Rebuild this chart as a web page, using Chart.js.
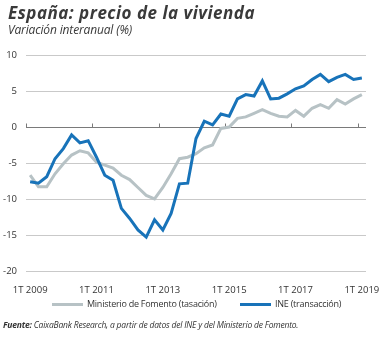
<!DOCTYPE html>
<html lang="es">
<head>
<meta charset="utf-8">
<title>España: precio de la vivienda</title>
<script src="https://cdn.jsdelivr.net/npm/chart.js@4/dist/chart.umd.min.js"></script>
<style>
  html, body { margin: 0; padding: 0; background: #fff; }
  #wrap { position: relative; width: 386px; height: 338px; font-family: "Open Sans", sans-serif; color: #333; overflow: hidden; }
  #chart { position: absolute; left: 0; top: 0; }
  .title { position: absolute; left: 8px; top: 4px; font-size: 17px; line-height: 17px; font-weight: 700; font-style: italic; letter-spacing: 0.5px; color: #3a3a3a; white-space: nowrap; }
  .subtitle { position: absolute; left: 8px; top: 24px; font-size: 12px; line-height: 12px; font-style: italic; letter-spacing: -0.15px; color: #3a3a3a; white-space: nowrap; }
  .legend-item { position: absolute; top: 299px; height: 10px; font-size: 9px; line-height: 10px; letter-spacing: -0.25px; white-space: nowrap; }
  .legend-item .swatch { position: absolute; left: 0; top: 4px; width: 31px; height: 3px; }
  .legend-item .label { position: absolute; left: 35px; top: 0; }
  .source { position: absolute; left: 3px; top: 320px; font-size: 8.5px; line-height: 10px; font-style: italic; letter-spacing: -0.2px; white-space: nowrap; }
</style>
</head>
<body>
<div id="wrap">
  <canvas id="chart" width="386" height="338"></canvas>
  <div class="title">España: precio de la vivienda</div>
  <div class="subtitle">Variación interanual (%)</div>
  <div class="legend-item" style="left:52px"><span class="swatch" style="background:#b7c2c5"></span><span class="label">Ministerio de Fomento (tasación)</span></div>
  <div class="legend-item" style="left:240px"><span class="swatch" style="background:#1873b9"></span><span class="label">INE (transacción)</span></div>
  <div class="source"><b>Fuente:</b> CaixaBank Research, a partir de datos del INE y del Ministerio de Fomento.</div>
</div>
<script>
// Trimestres 1T 2009 - 1T 2019
const quarters = [
  '1T 2009', '2T 2009', '3T 2009', '4T 2009',
  '1T 2010', '2T 2010', '3T 2010', '4T 2010',
  '1T 2011', '2T 2011', '3T 2011', '4T 2011',
  '1T 2012', '2T 2012', '3T 2012', '4T 2012',
  '1T 2013', '2T 2013', '3T 2013', '4T 2013',
  '1T 2014', '2T 2014', '3T 2014', '4T 2014',
  '1T 2015', '2T 2015', '3T 2015', '4T 2015',
  '1T 2016', '2T 2016', '3T 2016', '4T 2016',
  '1T 2017', '2T 2017', '3T 2017', '4T 2017',
  '1T 2018', '2T 2018', '3T 2018', '4T 2018',
  '1T 2019'
];

// Etiquetas del eje X (cada dos años)
const xTickLabels = ['1T 2009', '1T 2011', '1T 2013', '1T 2015', '1T 2017', '1T 2019'];

// Ministerio de Fomento (tasación), variación interanual %
const fomento = [
  -6.7, -8.3, -8.3, -6.5, -5.1, -3.9, -3.3, -3.6,
  -4.9, -5.3, -5.7, -6.7, -7.3, -8.4, -9.5, -10.0,
  -8.4, -6.5, -4.4, -4.2, -3.7, -2.9, -2.5, -0.2,
  0.0, 1.2, 1.4, 1.9, 2.4, 1.9, 1.5, 1.4,
  2.3, 1.5, 2.6, 3.1, 2.6, 3.8, 3.2, 3.9,
  4.5
];

// INE (transacción), variación interanual %
const ine = [
  -7.6, -7.8, -6.9, -4.4, -3.0, -1.1, -2.2, -1.9,
  -4.2, -6.7, -7.4, -11.3, -12.7, -14.3, -15.3, -12.9,
  -14.3, -12.0, -7.9, -7.8, -1.6, 0.8, 0.3, 1.8,
  1.5, 3.9, 4.5, 4.3, 6.4, 3.9, 4.0, 4.6,
  5.3, 5.7, 6.6, 7.3, 6.3, 6.9, 7.3, 6.6,
  6.8
];

const yTicks = [10, 5, 0, -5, -10, -15, -20];

const COLOR_FOMENTO = '#b7c2c5';
const COLOR_INE = '#1873b9';
const COLOR_TEXT = '#333333';

// Línea del cero con marcas cada 8 trimestres
const zeroLinePlugin = {
  id: 'zeroLine',
  beforeDatasetsDraw(chart) {
    const { ctx, chartArea, scales } = chart;
    const x = scales.x, y = scales.y;
    const y0 = Math.round(y.getPixelForValue(0)) + 0.5;
    const half = (x.getPixelForValue(1) - x.getPixelForValue(0)) / 2;
    ctx.save();
    ctx.strokeStyle = '#7a7a7a';
    ctx.lineWidth = 1;
    ctx.beginPath();
    ctx.moveTo(chartArea.left, y0);
    ctx.lineTo(chartArea.right, y0);
    xTickLabels.forEach(lbl => {
      const idx = quarters.indexOf(lbl);
      const px = Math.round(x.getPixelForValue(idx) - half) + 0.5;
      ctx.moveTo(px, y0 - 4);
      ctx.lineTo(px, y0);
    });
    ctx.stroke();
    ctx.restore();
  }
};

const ctx = document.getElementById('chart').getContext('2d');
new Chart(ctx, {
  type: 'line',
  data: {
    labels: quarters,
    datasets: [
      {
        label: 'Ministerio de Fomento (tasación)',
        data: fomento,
        borderColor: COLOR_FOMENTO,
        borderWidth: 3,
        pointRadius: 0,
        tension: 0,
        order: 1
      },
      {
        label: 'INE (transacción)',
        data: ine,
        borderColor: COLOR_INE,
        borderWidth: 3,
        pointRadius: 0,
        tension: 0,
        order: 0
      }
    ]
  },
  options: {
    responsive: false,
    animation: false,
    layout: { padding: { top: 55, right: 20, bottom: 45, left: 0 } },
    plugins: {
      legend: { display: false },
      tooltip: { enabled: false }
    },
    scales: {
      x: {
        type: 'category',
        offset: true,
        grid: { display: false },
        border: { display: false },
        ticks: {
          autoSkip: false,
          maxRotation: 0,
          padding: 6,
          color: COLOR_TEXT,
          font: { family: 'Open Sans', size: 9.5 },
          callback: (val, i) => xTickLabels.includes(quarters[i]) ? quarters[i] : ''
        },
        afterFit: scale => { scale.height = 22; }
      },
      y: {
        min: -20,
        max: 10,
        afterBuildTicks: scale => { scale.ticks = yTicks.map(v => ({ value: v })); },
        grid: {
          drawTicks: false,
          lineWidth: 1,
          color: c => c.tick && c.tick.value === 0 ? 'rgba(0,0,0,0)' : '#c9c9c9'
        },
        border: { display: false },
        ticks: {
          padding: 9,
          color: COLOR_TEXT,
          font: { family: 'Open Sans', size: 9.5 }
        },
        afterFit: scale => { scale.width = 26; }
      }
    }
  },
  plugins: [zeroLinePlugin]
});
</script>
</body>
</html>
